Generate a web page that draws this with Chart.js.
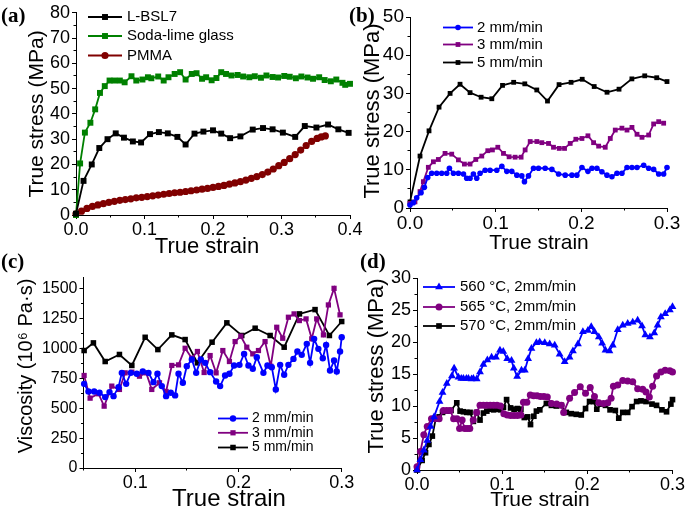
<!DOCTYPE html>
<html>
<head>
<meta charset="utf-8">
<script src="https://cdn.jsdelivr.net/npm/chart.js@4.4.0/dist/chart.umd.min.js"></script>
<style>
html, body { margin: 0; padding: 0; background: #fff; }
#wrap { position: relative; width: 685px; height: 511px; }
#wrap canvas { position: absolute; left: 0; top: 0; }
</style>
</head>
<body>
<div id="wrap">
  <canvas id="chartA" width="685" height="511"></canvas>
  <canvas id="chartB" width="685" height="511"></canvas>
  <canvas id="chartC" width="685" height="511"></canvas>
  <canvas id="chartD" width="685" height="511"></canvas>
</div>
<script>
// ---- (a) true stress vs true strain, three materials ----
const bsl7Strain = [0, 0.011, 0.023, 0.034, 0.046, 0.058, 0.070, 0.083, 0.095, 0.108, 0.121, 0.134, 0.148, 0.160, 0.173, 0.186, 0.200, 0.212, 0.225, 0.240, 0.258, 0.273, 0.287, 0.302, 0.320, 0.334, 0.351, 0.368, 0.383, 0.398];
const bsl7Stress = [0.5, 13.5, 20, 26.5, 30, 32.3, 30.6, 29.1, 28.7, 32, 32.8, 32.3, 30.9, 27.9, 32.2, 33, 33.5, 32.2, 30.4, 31.1, 33.8, 34.4, 33.9, 32.6, 30.9, 35.2, 34.6, 35.8, 33.9, 32.5];

const sodaStrain = [0, 0.006, 0.013, 0.021, 0.028, 0.035, 0.042, 0.049, 0.056, 0.064, 0.071, 0.081, 0.088, 0.097, 0.105, 0.110, 0.120, 0.128, 0.135, 0.144, 0.152, 0.160, 0.169, 0.176, 0.184, 0.190, 0.198, 0.205, 0.212, 0.219, 0.227, 0.236, 0.244, 0.253, 0.261, 0.270, 0.278, 0.287, 0.295, 0.304, 0.312, 0.321, 0.329, 0.338, 0.346, 0.355, 0.363, 0.372, 0.380, 0.389, 0.393, 0.400];
const sodaStress = [0, 20.4, 32.6, 36.5, 41.8, 48.3, 51, 53.2, 53.2, 53.2, 52.5, 54.9, 53.2, 53.6, 54.5, 54.1, 54.8, 53.2, 54.5, 55.8, 56.5, 53.6, 55.8, 56.1, 53.9, 54.5, 53.3, 54.2, 56.5, 55.8, 55.2, 55.4, 54.8, 54.5, 54.9, 54.3, 55.2, 54.6, 54.4, 55.0, 54.7, 54.1, 54.8, 54.4, 53.9, 54.5, 53.4, 52.9, 53.6, 52.3, 51.5, 51.9];

const pmmaStrain = [0, 0.008, 0.016, 0.024, 0.032, 0.040, 0.048, 0.056, 0.064, 0.072, 0.080, 0.088, 0.096, 0.104, 0.112, 0.120, 0.128, 0.136, 0.144, 0.152, 0.160, 0.168, 0.176, 0.184, 0.192, 0.200, 0.208, 0.216, 0.224, 0.232, 0.240, 0.248, 0.256, 0.264, 0.272, 0.280, 0.288, 0.296, 0.304, 0.312, 0.320, 0.328, 0.336, 0.344, 0.352, 0.358, 0.364];
const pmmaStress = [0.5, 1.5, 2.6, 3.4, 4.0, 4.5, 5.0, 5.4, 5.8, 6.1, 6.4, 6.8, 7.0, 7.3, 7.6, 7.9, 8.2, 8.5, 8.8, 9.0, 9.3, 9.6, 9.9, 10.2, 10.5, 10.9, 11.3, 11.7, 12.2, 12.7, 13.2, 13.8, 14.5, 15.2, 16.0, 17.0, 18.2, 19.5, 20.8, 22.3, 23.9, 25.7, 27.5, 29.1, 30.3, 30.9, 31.3];

// ---- (b) L-BSL7 at three crosshead speeds ----
const b2Strain = [0, 0.0039, 0.0078, 0.0129, 0.0168, 0.0207, 0.0253, 0.0312, 0.037, 0.0429, 0.046, 0.0507, 0.0565, 0.0624, 0.0662, 0.0701, 0.074, 0.0779, 0.0818, 0.0877, 0.0935, 0.1013, 0.1072, 0.113, 0.1188, 0.1247, 0.1305, 0.1336, 0.1383, 0.1442, 0.15, 0.1578, 0.1656, 0.1734, 0.1812, 0.189, 0.1948, 0.2007, 0.2077, 0.2124, 0.2182, 0.224, 0.2299, 0.2357, 0.2416, 0.2474, 0.2533, 0.2591, 0.265, 0.2728, 0.2786, 0.2844, 0.2903, 0.2961, 0.3];
const b2Stress = [0.8, 1.4, 2.7, 4.0, 5.4, 8.0, 9.1, 9.1, 9.1, 9.1, 10.4, 9.1, 9.1, 8.9, 7.8, 7.8, 8.9, 7.8, 9.1, 9.9, 9.9, 9.9, 10.9, 9.6, 9.6, 8.6, 8.4, 6.9, 8.4, 10.4, 10.4, 10.4, 10.1, 8.9, 8.6, 8.6, 8.6, 10.6, 9.6, 10.4, 10.4, 9.5, 8.6, 8.2, 9.1, 9.1, 10.6, 10.6, 10.6, 11.2, 10.4, 10.1, 8.9, 8.9, 10.6];

const b3Strain = [0, 0.0058, 0.0117, 0.0156, 0.0214, 0.0273, 0.0331, 0.0409, 0.0487, 0.0565, 0.0635, 0.0701, 0.0768, 0.0838, 0.0908, 0.0962, 0.1025, 0.1091, 0.1157, 0.1227, 0.1297, 0.1344, 0.1403, 0.1481, 0.1539, 0.1617, 0.1675, 0.1742, 0.1804, 0.187, 0.1936, 0.2007, 0.2077, 0.2143, 0.2202, 0.2279, 0.2338, 0.2396, 0.2474, 0.2533, 0.2591, 0.265, 0.2708, 0.2786, 0.2844, 0.2903, 0.2961];
const b3Stress = [1.2, 1.6, 4.3, 6.9, 10.65, 12.1, 12.7, 14.3, 14.1, 12.6, 11.5, 11.5, 12.7, 13.6, 15.0, 15.2, 15.9, 14.3, 13.4, 13.3, 13.3, 15.2, 17.4, 17.4, 17.1, 16.9, 15.9, 15.6, 15.6, 16.9, 18.0, 18.2, 18.9, 17.1, 16.2, 15.9, 18.2, 20.4, 20.9, 20.4, 21.1, 19.3, 18.5, 19.1, 22.0, 22.6, 22.2];

const b5Strain = [0, 0.0117, 0.0222, 0.0339, 0.0468, 0.0584, 0.0701, 0.083, 0.0955, 0.108, 0.121, 0.134, 0.148, 0.1605, 0.174, 0.188, 0.201, 0.215, 0.23, 0.244, 0.259, 0.274, 0.288, 0.3];
const b5Stress = [1.6, 13.6, 20.2, 26.4, 30, 32.4, 30.2, 29, 28.6, 32.1, 32.9, 32.5, 30.9, 28, 32.3, 32.9, 33.7, 31.8, 30.3, 31.1, 33.8, 34.6, 34.1, 33.1];

// ---- (c) viscosity ----
const c2Strain = [0.0506, 0.0548, 0.0603, 0.0655, 0.071, 0.0752, 0.0791, 0.0839, 0.0871, 0.0913, 0.0958, 0.1016, 0.1074, 0.1129, 0.1178, 0.1216, 0.1258, 0.13, 0.1345, 0.1387, 0.142, 0.1462, 0.15, 0.1549, 0.1591, 0.1636, 0.1678, 0.1726, 0.1784, 0.1823, 0.1871, 0.1913, 0.1958, 0.201, 0.2055, 0.2097, 0.2139, 0.2178, 0.2242, 0.2281, 0.2323, 0.2362, 0.2404, 0.2443, 0.2484, 0.2533, 0.2571, 0.2613, 0.2662, 0.2694, 0.2733, 0.2774, 0.2817, 0.2849, 0.2887, 0.2926, 0.2952, 0.2984, 0.3];
const c2Visc = [705, 641, 641, 630, 594, 636, 602, 677, 797, 705, 797, 789, 809, 797, 719, 789, 686, 602, 630, 608, 789, 714, 853, 909, 797, 909, 881, 803, 725, 686, 775, 789, 859, 864, 956, 859, 831, 928, 797, 859, 845, 658, 864, 781, 864, 914, 976, 948, 1040, 881, 1082, 998, 920, 1031, 817, 900, 809, 976, 1095];

const c3Strain = [0.0506, 0.0564, 0.0645, 0.07, 0.0774, 0.0848, 0.0903, 0.0968, 0.1042, 0.1107, 0.1161, 0.1236, 0.13, 0.1355, 0.142, 0.1484, 0.1549, 0.1603, 0.1668, 0.1726, 0.1784, 0.1849, 0.1913, 0.1968, 0.2023, 0.2081, 0.2139, 0.2194, 0.2258, 0.2313, 0.2371, 0.2429, 0.2484, 0.2539, 0.259, 0.2655, 0.271, 0.2758, 0.2823, 0.2871, 0.2926, 0.2984];
const c3Visc = [775, 585, 622, 518, 686, 658, 797, 803, 769, 797, 658, 714, 641, 859, 864, 1003, 920, 976, 800, 942, 797, 984, 892, 1059, 1104, 1012, 956, 984, 1059, 853, 1179, 1087, 1263, 1291, 1235, 1249, 1082, 1249, 1115, 1366, 1505, 1283];

const c5Strain = [0.0506, 0.0596, 0.071, 0.0848, 0.0968, 0.1097, 0.122, 0.1355, 0.1484, 0.1603, 0.1745, 0.1888, 0.2032, 0.2162, 0.2307, 0.2443, 0.2591, 0.2742, 0.2881, 0.3];
const c5Visc = [984, 1048, 892, 951, 859, 1095, 992, 1115, 1076, 881, 1054, 1216, 1110, 1171, 1110, 1012, 1291, 1327, 1110, 1227];

// ---- (d) three temperatures at 2 mm/min ----
const d560Strain = [0, 0.004, 0.008, 0.012, 0.016, 0.02, 0.0265, 0.03, 0.035, 0.041, 0.0436, 0.0487, 0.052, 0.0545, 0.058, 0.0604, 0.064, 0.0662, 0.0701, 0.074, 0.0779, 0.0826, 0.0876, 0.0927, 0.0974, 0.1013, 0.1059, 0.111, 0.1137, 0.1176, 0.1227, 0.1266, 0.1305, 0.1344, 0.1402, 0.1441, 0.15, 0.1558, 0.1617, 0.1675, 0.1734, 0.1792, 0.1831, 0.189, 0.1948, 0.2007, 0.2046, 0.2084, 0.2135, 0.2174, 0.2213, 0.226, 0.2299, 0.2357, 0.2416, 0.2474, 0.2533, 0.2591, 0.2642, 0.2681, 0.2735, 0.2786, 0.2825, 0.2864, 0.2914, 0.2969, 0.3];
const d560Stress = [0, 1.6, 3.1, 4.6, 6.8, 8.3, 10.7, 12.1, 13.5, 14.7, 15.9, 14.5, 14.3, 14.3, 14.3, 14.3, 14.2, 14.3, 14.2, 15.3, 16.5, 17.2, 17.6, 17.6, 18.7, 18.5, 17.4, 17.1, 15.9, 14.6, 15.6, 15.6, 17.4, 19.0, 19.9, 20.0, 19.9, 19.7, 19.5, 18.1, 16.9, 17.6, 18.6, 19.7, 21.6, 21.8, 22.4, 21.6, 20.8, 19.8, 18.7, 18.6, 19.5, 21.9, 22.6, 22.9, 23.1, 23.4, 22.5, 21.1, 20.8, 21.4, 22.6, 23.9, 24.4, 25.0, 25.5];

const d565Strain = [0, 0.004, 0.008, 0.012, 0.017, 0.021, 0.026, 0.031, 0.035, 0.039, 0.043, 0.047, 0.05, 0.053, 0.056, 0.059, 0.062, 0.066, 0.07, 0.074, 0.078, 0.082, 0.086, 0.09, 0.094, 0.098, 0.102, 0.106, 0.11, 0.114, 0.118, 0.122, 0.125, 0.129, 0.133, 0.137, 0.141, 0.145, 0.149, 0.153, 0.158, 0.164, 0.1695, 0.1722, 0.1792, 0.185, 0.1917, 0.1979, 0.2034, 0.2084, 0.2135, 0.219, 0.224, 0.2279, 0.2306, 0.2357, 0.2416, 0.2474, 0.2533, 0.2591, 0.265, 0.2689, 0.2728, 0.2767, 0.2813, 0.2864, 0.2914, 0.2969, 0.3];
const d565Stress = [0.5, 2.9, 5.5, 6.8, 8.0, 8.0, 8.0, 9.3, 9.3, 9.3, 8.0, 8.0, 6.5, 7.8, 6.5, 6.5, 6.5, 7.8, 9.0, 10.1, 10.1, 10.1, 10.1, 10.1, 10.1, 10.0, 8.8, 8.6, 8.5, 8.5, 8.5, 8.6, 10.6, 10.6, 11.7, 11.6, 11.6, 11.5, 11.5, 11.4, 10.4, 10.3, 10.1, 9.0, 11.2, 12.1, 13.0, 12.0, 12.9, 11.5, 10.5, 10.4, 10.5, 11.2, 13.1, 13.3, 14.0, 13.9, 13.8, 12.7, 12.6, 12.2, 11.4, 13.1, 14.7, 15.3, 15.6, 15.5, 15.3];

const d570Strain = [0, 0.006, 0.01, 0.014, 0.018, 0.022, 0.026, 0.03, 0.035, 0.04, 0.0467, 0.0506, 0.0545, 0.0585, 0.0623, 0.0662, 0.07, 0.074, 0.078, 0.082, 0.086, 0.09, 0.094, 0.098, 0.1015, 0.1052, 0.1099, 0.114, 0.118, 0.122, 0.126, 0.13, 0.1333, 0.1372, 0.1402, 0.1442, 0.1519, 0.1578, 0.1636, 0.1695, 0.1753, 0.1811, 0.187, 0.1929, 0.1979, 0.2026, 0.2072, 0.2111, 0.2162, 0.2213, 0.2267, 0.2329, 0.2369, 0.2416, 0.2474, 0.2525, 0.2579, 0.263, 0.2689, 0.2759, 0.2813, 0.2876, 0.293, 0.2981, 0.3];
const d570Stress = [0, 1.5, 2.7, 4.0, 5.3, 8.0, 8.3, 9.0, 9.2, 9.3, 10.5, 9.2, 9.1, 9.0, 9.0, 7.6, 9.0, 7.8, 8.9, 9.2, 9.5, 9.4, 9.5, 9.4, 9.8, 11.0, 9.7, 9.5, 9.6, 9.5, 8.2, 8.3, 7.1, 8.4, 9.2, 9.4, 10.4, 10.1, 10.0, 10.1, 9.0, 8.8, 8.7, 8.6, 9.6, 10.7, 10.7, 9.5, 10.3, 10.1, 9.4, 9.3, 8.1, 9.0, 9.0, 9.9, 10.7, 10.8, 10.7, 10.3, 10.1, 9.4, 9.1, 10.3, 11.0];

// tick values (major, then minor)
const strainTicks04 = [0, 0.1, 0.2, 0.3, 0.4];
const strainTicks03 = [0, 0.1, 0.2, 0.3];
const strainTicksC = [0.1, 0.2, 0.3];
const stressTicksA = [0, 10, 20, 30, 40, 50, 60, 70, 80];
const stressTicksB = [0, 10, 20, 30, 40, 50];
const viscTicks = [0, 250, 500, 750, 1000, 1250, 1500];
const stressTicksD = [0, 5, 10, 15, 20, 25, 30];

const strainMinor04 = [0.05, 0.15, 0.25, 0.35];
const strainMinor03 = [0.05, 0.15, 0.25];
const stressMinorA = [5, 15, 25, 35, 45, 55, 65, 75];
const stressMinorB = [5, 15, 25, 35, 45];
const viscMinor = [125, 375, 625, 875, 1125, 1375];
const stressMinorD = [2.5, 7.5, 12.5, 17.5, 22.5, 27.5];

const SANS = '"Liberation Sans", Arial, sans-serif';
const SERIF = '"Liberation Serif", "Times New Roman", serif';
const W = 685, H = 511;

function series(label, xs, ys, color, style, r) {
  return {
    label: label,
    data: xs.map((x, i) => ({x: x, y: ys[i]})),
    borderColor: color,
    backgroundColor: color,
    pointStyle: style,
    pointRadius: r,
    pointBorderWidth: 0,
    borderWidth: 1.8,
    showLine: true,
    tension: 0,
    clip: false
  };
}

function axis(pos, min, max, ticks, size, font, fmt) {
  return {
    type: 'linear',
    position: pos,
    min: min,
    max: max,
    afterBuildTicks: s => { s.ticks = ticks.map(v => ({value: v})); },
    afterFit: s => { if (pos === 'bottom') s.height = size; else s.width = size; },
    grid: { drawOnChartArea: false, drawTicks: true, tickLength: 4, color: '#000', tickColor: '#000', tickWidth: 1 },
    border: { display: true, color: '#000', width: 1 },
    ticks: { color: '#000', font: { family: SANS, size: font }, padding: pos === 'bottom' ? 0 : 2, maxRotation: 0, autoSkip: false, callback: fmt }
  };
}

// short unlabelled ticks sitting right on the main axis
function minorAxis(pos, min, max, ticks) {
  return {
    type: 'linear',
    position: pos,
    weight: -1,
    min: min,
    max: max,
    afterBuildTicks: s => { s.ticks = ticks.map(v => ({value: v})); },
    afterFit: s => { if (pos === 'bottom') s.height = 0; else s.width = 0; },
    grid: { drawOnChartArea: false, drawTicks: true, tickLength: 2.5, color: '#000', tickColor: '#000', tickWidth: 1 },
    border: { display: false },
    ticks: { display: false }
  };
}

// draws axis titles, panel letters and the in-plot legend
function decor(spec) {
  return {
    id: 'decor',
    afterDraw(chart) {
      const ctx = chart.ctx;
      ctx.save();
      spec.texts.forEach(t => {
        ctx.save();
        ctx.font = t.font;
        ctx.fillStyle = '#000';
        ctx.textAlign = t.align || 'center';
        ctx.textBaseline = t.base || 'alphabetic';
        ctx.translate(t.x, t.y);
        if (t.rot) ctx.rotate(-Math.PI / 2);
        ctx.fillText(t.text, 0, 0);
        ctx.restore();
      });
      const lg = spec.legend;
      lg.rows.forEach((y, i) => {
        const ds = chart.data.datasets[i];
        ctx.strokeStyle = ds.borderColor;
        ctx.lineWidth = ds.borderWidth;
        ctx.beginPath();
        ctx.moveTo(lg.x1, y);
        ctx.lineTo(lg.x2, y);
        ctx.stroke();
        ctx.fillStyle = ds.backgroundColor;
        Chart.helpers.drawPoint(ctx, { pointStyle: ds.pointStyle, radius: ds.pointRadius, rotation: 0, borderWidth: 0 }, (lg.x1 + lg.x2) / 2, y);
        ctx.fillStyle = '#000';
        ctx.font = lg.font;
        ctx.textAlign = 'left';
        ctx.textBaseline = 'middle';
        ctx.fillText(ds.label, lg.tx, y);
      });
      ctx.restore();
    }
  };
}

function panel(id, area, datasets, ax, spec) {
  const yw = 60, xh = 30;
  new Chart(document.getElementById(id), {
    type: 'scatter',
    data: { datasets: datasets },
    options: {
      responsive: false,
      animation: false,
      events: [],
      layout: { padding: { left: area.l - yw, top: area.t, right: W - area.r, bottom: H - area.b - xh } },
      plugins: { legend: { display: false }, tooltip: { enabled: false } },
      scales: {
        x: axis('bottom', ax.xmin, ax.xmax, ax.xt, xh, ax.xf, v => v.toFixed(1)),
        y: axis('left', ax.ymin, ax.ymax, ax.yt, yw, ax.yf, v => String(v)),
        xm: minorAxis('bottom', ax.xmin, ax.xmax, ax.xm),
        ym: minorAxis('left', ax.ymin, ax.ymax, ax.ym)
      }
    },
    plugins: [decor(spec)]
  });
}

panel('chartA', { l: 76, t: 12, r: 350, b: 215 }, [
    series('L-BSL7', bsl7Strain, bsl7Stress, '#000000', 'rect', 4.2),
    series('Soda-lime glass', sodaStrain, sodaStress, '#008000', 'rect', 4.2),
    series('PMMA', pmmaStrain, pmmaStress, '#800000', 'circle', 3.6)
  ],
  { xmin: 0, xmax: 0.4, xt: strainTicks04, xm: strainMinor04, xf: 18,
    ymin: 0, ymax: 80, yt: stressTicksA, ym: stressMinorA, yf: 18 },
  {
    texts: [
      { text: '(a)', font: 'bold 21px ' + SERIF, x: 1, y: 22, align: 'left' },
      { text: 'True stress (MPa)', font: '21px ' + SANS, x: 37, y: 114, rot: true, base: 'middle' },
      { text: 'True strain', font: '22px ' + SANS, x: 207, y: 253 }
    ],
    legend: { rows: [17, 36, 55.5], x1: 88, x2: 122, tx: 127, font: '15px ' + SANS }
  });

panel('chartB', { l: 410, t: 17, r: 667, b: 208 }, [
    series('2 mm/min', b2Strain, b2Stress, '#0000ff', 'circle', 2.8),
    series('3 mm/min', b3Strain, b3Stress, '#800080', 'rect', 3.4),
    series('5 mm/min', b5Strain, b5Stress, '#000000', 'rect', 3.4)
  ],
  { xmin: 0, xmax: 0.3, xt: strainTicks03, xm: strainMinor03, xf: 19,
    ymin: 0, ymax: 50, yt: stressTicksB, ym: stressMinorB, yf: 19 },
  {
    texts: [
      { text: '(b)', font: 'bold 21px ' + SERIF, x: 349, y: 22, align: 'left' },
      { text: 'True stress (MPa)', font: '22px ' + SANS, x: 373, y: 111, rot: true, base: 'middle' },
      { text: 'True strain', font: '21px ' + SANS, x: 539, y: 249 }
    ],
    legend: { rows: [27.5, 44.5, 62.5], x1: 443, x2: 473, tx: 477, font: '15px ' + SANS }
  });

panel('chartC', { l: 83.5, t: 277, r: 341.7, b: 468 }, [
    series('2 mm/min', c2Strain, c2Visc, '#0000ff', 'circle', 3.2),
    series('3 mm/min', c3Strain, c3Visc, '#800080', 'rect', 3.7),
    series('5 mm/min', c5Strain, c5Visc, '#000000', 'rect', 3.9)
  ],
  { xmin: 0.05, xmax: 0.3, xt: strainTicksC, xm: strainMinor03, xf: 18,
    ymin: 0, ymax: 1600, yt: viscTicks, ym: viscMinor, yf: 16 },
  {
    texts: [
      { text: '(c)', font: 'bold 21px ' + SERIF, x: 1, y: 268, align: 'left' },
      { text: 'Viscosity (10\u2076 Pa\u00b7s)', font: '20px ' + SANS, x: 26, y: 366, rot: true, base: 'middle' },
      { text: 'True strain', font: '24px ' + SANS, x: 229, y: 506 }
    ],
    legend: { rows: [418.5, 432.8, 447.5], x1: 218, x2: 248, tx: 252, font: '14px ' + SANS }
  });

panel('chartD', { l: 417, t: 278, r: 673, b: 470 }, [
    series('560 \u00b0C, 2mm/min', d560Strain, d560Stress, '#0000ff', 'triangle', 4.5),
    series('565 \u00b0C, 2mm/min', d565Strain, d565Stress, '#800080', 'circle', 3.5),
    series('570 \u00b0C, 2mm/min', d570Strain, d570Stress, '#000000', 'rect', 4.0)
  ],
  { xmin: 0, xmax: 0.3, xt: strainTicks03, xm: strainMinor03, xf: 18,
    ymin: 0, ymax: 30, yt: stressTicksD, ym: stressMinorD, yf: 18 },
  {
    texts: [
      { text: '(d)', font: 'bold 21px ' + SERIF, x: 360, y: 268, align: 'left' },
      { text: 'True stress (MPa)', font: '22px ' + SANS, x: 377, y: 366, rot: true, base: 'middle' },
      { text: 'True strain', font: '21px ' + SANS, x: 540, y: 506 }
    ],
    legend: { rows: [287, 307, 326], x1: 423, x2: 455, tx: 460, font: '15px ' + SANS }
  });
</script>
</body>
</html>
